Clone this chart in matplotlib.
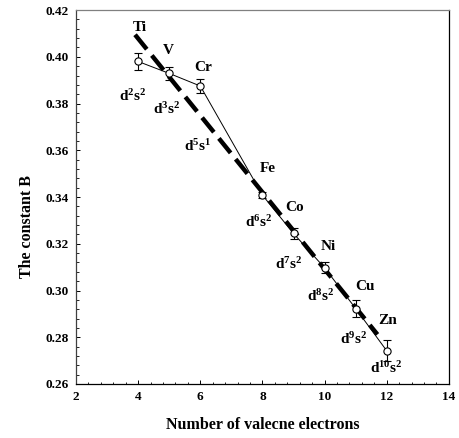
import numpy as np
import matplotlib
matplotlib.use("Agg")
import matplotlib.pyplot as plt

plt.rcParams["font.family"] = "Liberation Serif"
plt.rcParams["font.weight"] = "bold"
plt.rcParams["mathtext.fontset"] = "custom"
plt.rcParams["mathtext.rm"] = "Liberation Serif:bold"
plt.rcParams["mathtext.it"] = "Liberation Serif:bold"
plt.rcParams["mathtext.bf"] = "Liberation Serif:bold"

# data
elements = ["Ti", "V", "Cr", "Fe", "Co", "Ni", "Cu", "Zn"]
configs = ["d$^{2}$s$^{2}$", "d$^{3}$s$^{2}$", "d$^{5}$s$^{1}$", "d$^{6}$s$^{2}$",
           "d$^{7}$s$^{2}$", "d$^{8}$s$^{2}$", "d$^{9}$s$^{2}$", "d$^{10}$s$^{2}$"]
n_valence = [4, 5, 6, 8, 9, 10, 11, 12]
const_b = [0.398, 0.3929, 0.3875, 0.3408, 0.3244, 0.3097, 0.2923, 0.2742]
b_err = [0.0038, 0.0029, 0.003, 0.0012, 0.0022, 0.0023, 0.0036, 0.0045]

# label positions
elem_pos = [(4.06, 0.4127), (4.96, 0.4029), (6.08, 0.3956), (8.17, 0.3524),
            (9.04, 0.3357), (10.13, 0.319), (11.29, 0.3016), (12.03, 0.2873)]
conf_pos = [(3.83, 0.3832), (4.9, 0.3776), (5.92, 0.3618), (7.88, 0.3293),
            (8.85, 0.3113), (9.88, 0.2976), (10.94, 0.2792), (12.0, 0.2668)]

fig = plt.figure(figsize=(4.59, 4.38), dpi=100)
ax = fig.add_axes([0.1656, 0.1233, 0.8124, 0.8537])

# linear fit (thick dashed)
coef = np.polyfit(n_valence, const_b, 1)
xfit = np.array([3.9, 11.7])
ax.plot(xfit, np.polyval(coef, xfit), color="black", lw=3.2,
        dashes=(4.2, 1.8), dash_capstyle="butt", zorder=2)

ax.errorbar(n_valence, const_b, yerr=b_err, color="black", lw=0.7,
            elinewidth=0.8, capsize=2.8, capthick=0.8,
            marker="o", markersize=5.2, markerfacecolor="white",
            markeredgecolor="black", markeredgewidth=0.8, zorder=3)

for name, (x, y) in zip(elements, elem_pos):
    ax.text(x, y, name, fontsize=11, ha="center", va="center")
for c, (x, y) in zip(configs, conf_pos):
    ax.text(x, y, c, fontsize=11, ha="center", va="center")

ax.set_xlim(2, 14)
ax.set_ylim(0.26, 0.42)
ax.set_xticks(np.arange(2, 14.1, 2))
ax.set_yticks(np.arange(0.26, 0.4201, 0.02))
ax.set_yticklabels(["%.2f" % v for v in np.arange(0.26, 0.4201, 0.02)])
ax.set_xticks(np.arange(2, 14.01, 0.4), minor=True)
ax.set_yticks(np.arange(0.26, 0.4201, 0.004), minor=True)
ax.tick_params(which="both", direction="in", top=False, right=False, labelsize=9.5)
ax.tick_params(which="major", length=3, width=0.7)
ax.tick_params(which="minor", length=1.8, width=0.6)
ax.tick_params(axis="x", pad=5)
ax.tick_params(axis="y", pad=5)

ax.spines["top"].set_color("#808080")
ax.spines["left"].set_color("#404040")
for s in ax.spines.values():
    s.set_linewidth(0.9)

ax.set_xlabel("Number of valecne electrons", fontsize=11.5, fontweight="bold", labelpad=10)
ax.set_ylabel("The constant B", fontsize=11.5, fontweight="bold")
ax.yaxis.set_label_coords(-0.11, 0.42)

fig.savefig("out.png", dpi=100)
